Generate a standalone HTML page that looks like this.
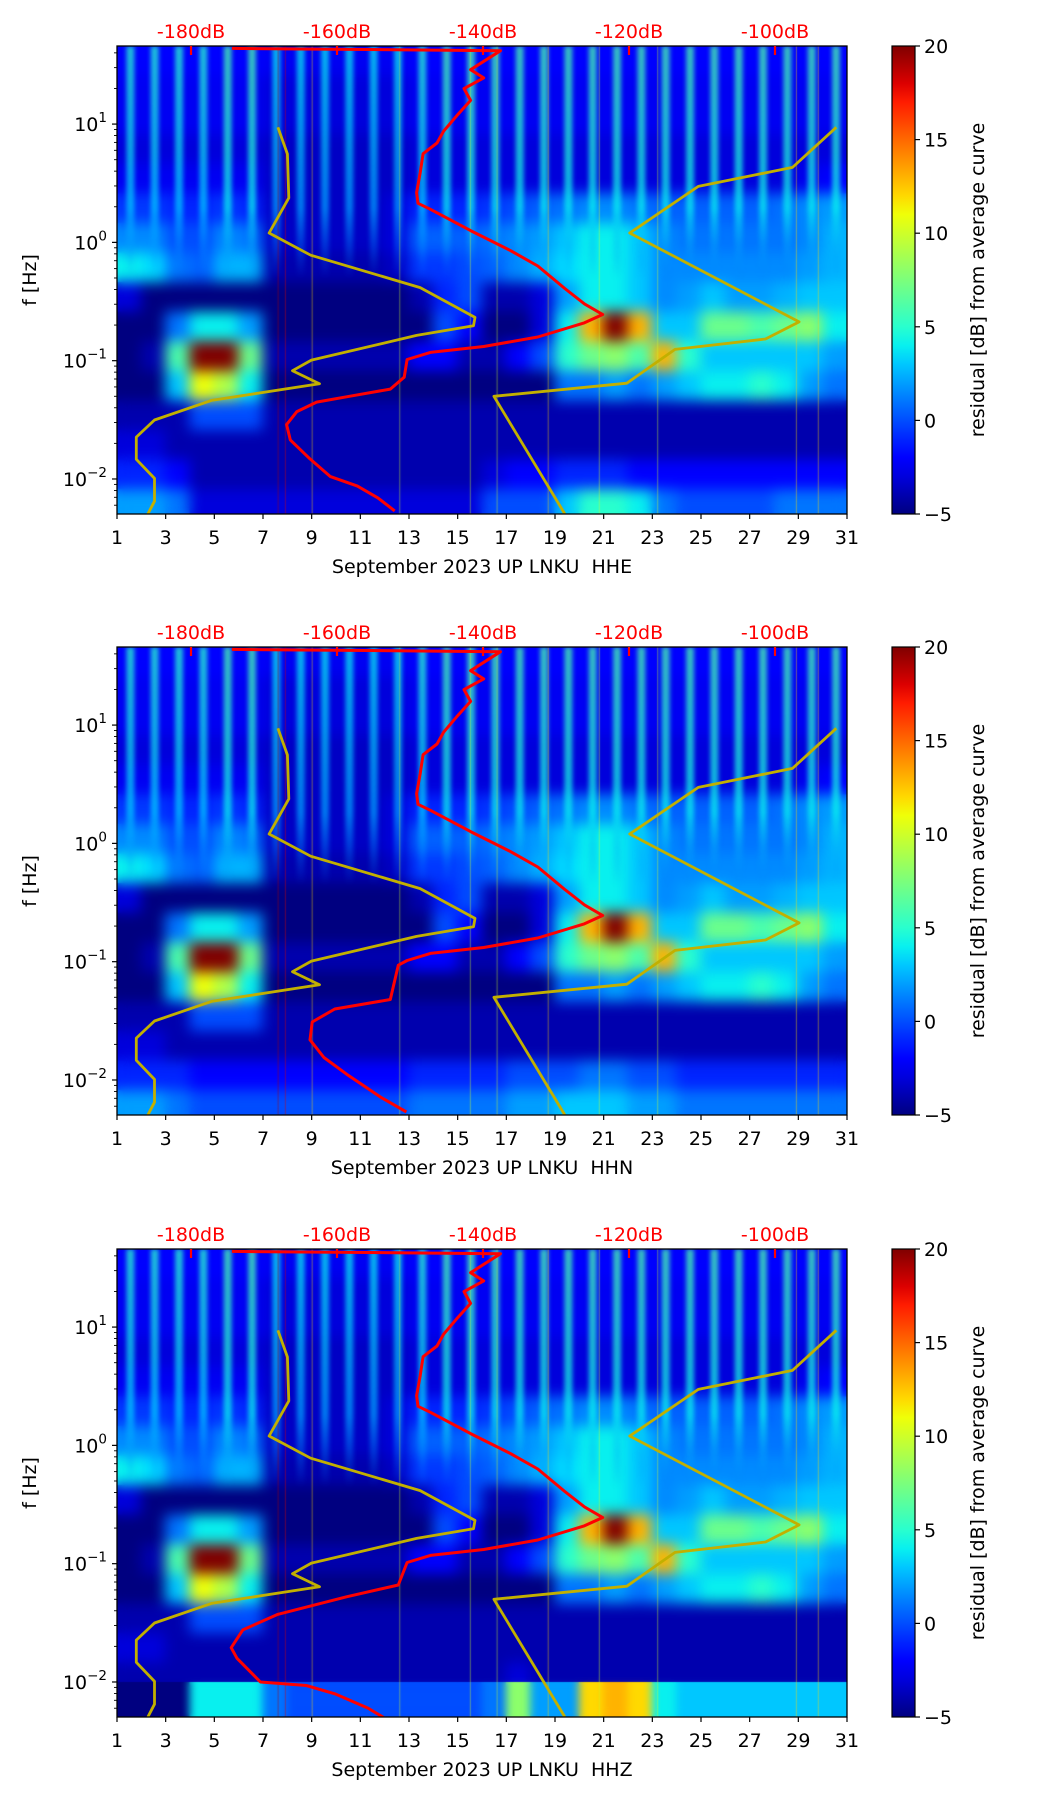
<!DOCTYPE html>
<html><head><meta charset="utf-8">
<style>
html,body{margin:0;padding:0;background:#fff;}
#wrap{position:relative;width:1052px;height:1806px;overflow:hidden;}
canvas{position:absolute;}
svg{position:absolute;left:0;top:0;}
text{font-family:"DejaVu Sans","Liberation Sans",sans-serif;}
</style></head>
<body>
<div id="wrap">
<canvas id="c0" width="730" height="468" style="left:117px;top:46px"></canvas>
<canvas id="c1" width="730" height="468" style="left:117px;top:647px"></canvas>
<canvas id="c2" width="730" height="468" style="left:117px;top:1249px"></canvas>
<svg id="svg" width="1052" height="1806" xmlns="http://www.w3.org/2000/svg"></svg>
</div>
<script>
// ---------- data ----------
const channels = ["HHE","HHN","HHZ"];
const dayTicks = [1,3,5,7,9,11,13,15,17,19,21,23,25,27,29,31];
const dbTicks = [-180,-160,-140,-120,-100];
const cbTicks = [-5,0,5,10,15,20];
const decades = [-2,-1,0,1];
// heatmap rows (top to bottom, 0.25 decade each), 30 day columns
const baseGrid = [
[-2,-2,-2,-2,-2,-2,-2.5,-2.5,-2.5,-2.5,-2.5,-2.5,-2,-2,-2,-2,-2,-2,-2,-2,-2,-2,-2,-2,-2,-2,-2,-2,-2,-2],
[-2.5,-2.5,-2.5,-2.5,-2.5,-2.5,-3,-3,-3,-3,-3,-3,-2.5,-2.5,-2.5,-2.5,-2.5,-2.5,-2.5,-2.5,-2.5,-2.5,-2.5,-2.5,-2.5,-2.5,-2.5,-2.5,-2.5,-2.5],
[-2.5,-2.5,-2.5,-2.5,-2.5,-2.5,-3,-3,-3,-3,-3,-3,-2.5,-2.5,-2.5,-2.5,-2.5,-2.5,-2.5,-2.5,-2.5,-2.5,-2.5,-2.5,-2.5,-2.5,-2.5,-2.5,-2.5,-2.5],
[-3,-3,-3,-3,-3,-3,-3.5,-3.5,-3.5,-3.5,-3.5,-3.5,-3,-3,-3,-3,-3,-3,-3,-3,-3,-3,-3,-3,-3,-3,-3,-3,-3,-3],
[-2.5,-2.5,-2.5,-2.5,-2.5,-2.5,-3.5,-3.5,-3.5,-3.5,-3.5,-3.5,-3,-3,-3,-3,-3,-3,-3,-3,-3,-3,-3,-3,-3,-3,-3,-3,-2.5,-2],
[-0.5,-0.5,-1,-1,-0.5,-1,-3.5,-3.5,-3.5,-3.5,-3.5,-3,-1,-1,-1,-0.5,0,0.5,1,1.5,1.5,1,0.5,0.5,0.5,0.5,0.5,1,1.5,2],
[1.5,1.5,0,0,1.5,1,-3.5,-3.5,-3.5,-3.5,-3.5,-3,0.5,0.5,0.5,1,1.5,2,3,4,4,3,1.5,1,1,1,1,1,1.5,2.5],
[4,3.5,1,0.5,2.5,2.5,-4,-4,-4,-4,-4,-3.5,-0.5,-0.5,0,0.5,1.5,2.5,3.5,4,4,3,1.5,1.5,1.5,1.5,1.5,1.5,2,2.5],
[-3,-5,-5,-5,-5,-5,-5,-5,-5,-5,-5,-5,-4,-1,0,-4,-4,-3,2,4,4,3,1.5,2,3,2,2,2.5,3,3],
[-5,-5,1,4,4,2,-5,-5,-5,-5,-5,-5,-5,0,-2,-5,-5,-3,4,13,20,13,3,3,7,7,6,7,8,4],
[-5,-4,6,20,20,7,-4,-4,-4,-4,-4,-4,-2,-2,-4,-4,-2,0,5,7,8,6,13,5,3,3,3,3,3,2],
[-5,-5,3,11,9,4,-5,-5,-5,-5,-5,-5,-5,-5,-5,-5,-5,-5,1,1,2,1,2,3,4,4,5,4,2,1],
[-4,-4,-4,0,0,0,-4,-4,-4,-4,-4,-4,-4,-4,-4,-4,-4,-4,-4,-4,-4,-4,-4,-4,-4,-4,-4,-4,-4,-4],
[-3,-3,-4,-4,-4,-4,-4,-4,-4,-4,-4,-4,-4,-4,-4,-4,-4,-4,-4,-4,-4,-4,-4,-4,-4,-4,-4,-4,-4,-4],
[-1,-1,-2,-4,-4,-4,-4,-4,-4,-4,-4,-4,-4,-4,-4,-3,-2,-2,-1,-1,-1,-2,-2,-2,-2,-2,-2,-2,-2,-2],
[2,2,1,-3,-3,-3,-3,-3,-3,-3,-3,-3,-3,-3,-3,0,0,0,3,5,5,4,1,0,0,0,0,1,1,1]
];
const hhnRow14 = [-1,-1,-1,-2,-2,-2,-2,-2,-2,-2,-2,-2,-1,-1,-1,-1,0,0,0,1,1,0,0,-1,-1,-1,-1,-1,-1,-1];
const hhnRow15 = [2,2,1,0,0,0,0,0,0,0,0,0,1,1,1,1,2,2,3,3,3,2,2,1,1,1,1,1,1,1];
const hhzRow14 = [-4,-4,-4,-4,-4,-4,-4,-4,-4,-4,-4,-4,-4,-4,-4,-4,-3,-4,-4,-4,-4,-4,-4,-4,-4,-4,-4,-4,-4,-4];
const hhzRow15 = [-5,-5,-5,4,4,4,1,0,0,0,0,0,0,0,0,1,8,2,2,12,13,12,4,3,3,3,3,3,3,3];
const streakStrength = [5,5,5,5,6,6,4,4,4,4,4,4,5,6,6,6,6,6,6,6,6,6,6,6,6,6,6,6,6,6];
const spikeDays = [7.6,7.9,9.0,12.6,15.5,16.6,18.7,20.8,23.2,28.9,29.8];
const spikeVals = [19,18,12,10,10,10,12,10,10,12,12];
// model curves (dB, log10 f)
const nlnmDb = [-168.1,-166.8,-166.6,-169.3,-163.6,-148.6,-141.1,-141.3,-149.1,-163.5,-166.1,-162.4,-177.1,-185.0,-187.5,-187.5,-185.0,-185.0,-185.9];
const nlnmLf = [0.973,0.747,0.376,0.079,-0.108,-0.382,-0.634,-0.705,-0.786,-0.995,-1.085,-1.195,-1.334,-1.501,-1.646,-1.834,-1.995,-2.188,-2.295];
const nhnmDb = [-91.6,-97.6,-110.5,-119.9,-96.7,-101.3,-113.7,-120.3,-138.5,-128.8];
const nhnmLf = [0.973,0.634,0.473,0.079,-0.672,-0.817,-0.905,-1.19,-1.301,-2.295];
// red average curve (upper part shared)
const redUpDb = [-174.4,-137.6,-141.7,-139.9,-142.6,-141.7,-143.6,-145.4,-146.3,-148.2,-148.6,-149.1,-148.9,-147.2,-141.7,-136.2,-132.5,-128.8,-126.1,-123.6,-126.1,-132.5,-139.9,-147.2,-150.4];
const redUpLf = [1.64,1.62,1.46,1.39,1.30,1.20,1.07,0.94,0.84,0.75,0.59,0.42,0.33,0.28,0.10,-0.07,-0.2,-0.39,-0.52,-0.61,-0.68,-0.80,-0.88,-0.93,-0.99];
const redLoDb0 = [-150.8,-152.7,-158.2,-162.8,-165.5,-166.9,-166.4,-163.7,-160.9,-157.2,-154.4,-152.1];
const redLoLf0 = [-1.14,-1.24,-1.30,-1.35,-1.43,-1.54,-1.67,-1.83,-1.98,-2.06,-2.16,-2.27];
const redLoDb1 = [-151.6,-152.7,-160.3,-163.4,-163.7,-161.8,-158.7,-153.9,-150.5];
const redLoLf1 = [-1.03,-1.32,-1.40,-1.51,-1.66,-1.81,-1.95,-2.15,-2.27];
const redLoDb2 = [-151.6,-158.7,-168.2,-172.9,-174.5,-173.7,-170.5,-164.2,-160.3,-155.8,-153.6];
const redLoLf2 = [-1.18,-1.28,-1.43,-1.56,-1.71,-1.80,-2.0,-2.03,-2.1,-2.22,-2.30];

// ---------- geometry ----------
const L=117, W=730, H=468, TOPS=[46,647,1249];
const FTOP=1.66, DEC=3.956, VMIN=-5, VMAX=20;
const dayX = d => L + (d-1)*W/30;
const dbX = db => 191 + (db+180)*7.3;
const fy = (top,lf) => top + (FTOP-lf)/DEC*H;

function interp(t,xs,ys){for(let i=1;i<xs.length;i++){if(t<=xs[i]){const u=(t-xs[i-1])/(xs[i]-xs[i-1]);return ys[i-1]+u*(ys[i]-ys[i-1]);}}return ys[ys.length-1];}
function jet(v){let t=(v-VMIN)/(VMAX-VMIN);t=Math.max(0,Math.min(1,t));
 const r=interp(t,[0,.35,.66,.89,1],[0,0,1,1,.5]);
 const g=interp(t,[0,.125,.375,.64,.91,1],[0,0,1,1,0,0]);
 const b=interp(t,[0,.11,.34,.65,1],[.5,1,1,0,0]);
 return `rgb(${Math.round(r*255)},${Math.round(g*255)},${Math.round(b*255)})`;}

// ---------- heatmaps ----------
function gridFor(p){const g=baseGrid.map(r=>r.slice());
 if(p===1){g[14]=hhnRow14;g[15]=hhnRow15;}
 if(p===2){g[14]=hhzRow14;g[15]=hhzRow15;}
 return g;}
for(let p=0;p<3;p++){
 const cv=document.getElementById('c'+p), ctx=cv.getContext('2d');
 const off=document.createElement('canvas');off.width=W;off.height=H;const o=off.getContext('2d');
 const g=gridFor(p), cw=W/30, rh=0.25/DEC*H;
 g.forEach((row,r)=>row.forEach((v,c)=>{o.fillStyle=jet(v);o.fillRect(c*cw-0.5,r*rh-0.5,cw+1,rh+1);}));
 ctx.drawImage(off,0,0);
 ctx.filter='blur(7px)';ctx.drawImage(off,0,0);ctx.drawImage(off,0,0);ctx.filter='none';
 if(p===2){ // sharp boundary at 10 mHz
  const yb=fy(0,-2);
  const o2=document.createElement('canvas');o2.width=W;o2.height=H;const x2=o2.getContext('2d');
  g[15].forEach((v,c)=>{x2.fillStyle=jet(v);x2.fillRect(c*cw-0.5,yb,cw+1,H-yb);});
  ctx.fillStyle=jet(g[15][0]);ctx.fillRect(0,yb,W,H-yb);
  ctx.save();ctx.beginPath();ctx.rect(0,yb,W,H-yb);ctx.clip();
  ctx.drawImage(o2,0,0);ctx.filter='blur(4px)';ctx.drawImage(o2,0,0);ctx.drawImage(o2,0,0);ctx.filter='none';
  ctx.restore();
 }
 // diurnal streaks
 ctx.filter='blur(2px)';
 streakStrength.forEach((s,c)=>{
  const x=(c+0.55)*cw, yEnd=fy(0,p===0?-0.3:-0.35);
  const gr=ctx.createLinearGradient(0,0,0,yEnd);
  gr.addColorStop(0,jet(s));gr.addColorStop(0.7,jet(s-2));gr.addColorStop(1,'rgba(0,128,255,0)');
  ctx.globalAlpha=0.75;ctx.fillStyle=gr;ctx.fillRect(x-4,0,8,yEnd);
 });
 ctx.globalAlpha=1;ctx.filter='none';
 // thin spikes
 spikeDays.forEach((d,i)=>{ctx.fillStyle=jet(spikeVals[i]);ctx.globalAlpha=0.45;ctx.fillRect((d-1)*cw,0,1,H);});
 ctx.globalAlpha=1;
}

// ---------- SVG overlay ----------
const NS='http://www.w3.org/2000/svg', svg=document.getElementById('svg');
function mk(tag,attrs,parent){const e=document.createElementNS(NS,tag);for(const k in attrs)e.setAttribute(k,attrs[k]);(parent||svg).appendChild(e);return e;}
const defs=mk('defs',{});
const grad=mk('linearGradient',{id:'jetg',x1:0,y1:1,x2:0,y2:0},defs);
for(let i=0;i<=25;i++){mk('stop',{offset:i/25,'stop-color':jet(VMIN+i)},grad);}

function poly(top,dbs,lfs){return dbs.map((d,i)=>dbX(d).toFixed(1)+','+fy(top,lfs[i]).toFixed(1)).join(' ');}
const redLo=[[redLoDb0,redLoLf0],[redLoDb1,redLoLf1],[redLoDb2,redLoLf2]];

TOPS.forEach((top,p)=>{
 const gp=mk('g',{});
 
 
 const clip=mk('clipPath',{id:'clip'+p},defs);mk('rect',{x:L,y:top,width:W,height:H},clip);
 const curves=mk('g',{'clip-path':`url(#clip${p})`},gp);
 const n1=mk('polyline',{points:poly(top,nlnmDb,nlnmLf),fill:'none',stroke:'#c2b000','stroke-width':2.8,'stroke-linejoin':'round'},curves);
 
 
 const n2=mk('polyline',{points:poly(top,nhnmDb,nhnmLf),fill:'none',stroke:'#c2b000','stroke-width':2.8,'stroke-linejoin':'round'},curves);
 
 
 const rd=mk('polyline',{points:poly(top,redUpDb.concat(redLo[p][0]),redUpLf.concat(redLo[p][1])),fill:'none',stroke:'#ff0000','stroke-width':3,'stroke-linejoin':'round'},curves);
 
 
 // frame
 const fr=mk('rect',{x:L,y:top,width:W,height:H,fill:'none',stroke:'#000','stroke-width':1.3},gp);
 
 
 // x ticks
 dayTicks.forEach(d=>{const x=dayX(d);
  mk('line',{x1:x,y1:top+H,x2:x,y2:top+H+5,stroke:'#000','stroke-width':1.2},gp);
  const t=mk('text',{x:x,y:top+H+30,'font-size':19,'text-anchor':'middle',fill:'#000'},gp);t.textContent=d;
  
  
 });
 const xl=mk('text',{x:L+W/2,y:top+H+59,'font-size':19,'text-anchor':'middle',fill:'#000'},gp);
 xl.textContent='September 2023 UP LNKU\u00a0\u00a0'+channels[p];
 
 
 // y ticks
 for(let e=-3;e<=1;e++){for(let m=1;m<10;m++){const lf=e+Math.log10(m);if(lf<FTOP-DEC||lf>FTOP)continue;const y=fy(top,lf);
  mk('line',{x1:L,y1:y,x2:L-(m===1?5:3),y2:y,stroke:'#000','stroke-width':m===1?1.2:0.9},gp);}}
 decades.forEach(e=>{const y=fy(top,e);
  const t=mk('text',{x:L-10,y:y+7,'font-size':19,'text-anchor':'end',fill:'#000'},gp);
  
  
  const a=mk('tspan',{},t);a.textContent='10';
  const b=mk('tspan',{dy:-9,'font-size':13.5},t);b.textContent=(e<0?'\u2212':'')+Math.abs(e);
 });
 const yl=mk('text',{x:0,y:0,'font-size':19,'text-anchor':'middle',fill:'#000',transform:`translate(36,${top+H/2}) rotate(-90)`},gp);
 yl.textContent='f [Hz]';
 
 
 // top dB axis
 dbTicks.forEach(db=>{const x=dbX(db);
  mk('line',{x1:x,y1:top,x2:x,y2:top+9,stroke:'#ff0000','stroke-width':2.2},gp);
  const t=mk('text',{x:x,y:top-8,'font-size':19,'text-anchor':'middle',fill:'#ff0000'},gp);t.textContent=db+'dB';
  
  
 });
 // colorbar
 const cb=mk('rect',{x:892,y:top,width:23,height:H,fill:'url(#jetg)',stroke:'#000','stroke-width':1.2},gp);
 
 
 cbTicks.forEach(v=>{const y=top+H-(v-VMIN)/(VMAX-VMIN)*H;
  mk('line',{x1:915,y1:y,x2:920,y2:y,stroke:'#000','stroke-width':1.2},gp);
  const t=mk('text',{x:924,y:y+7,'font-size':19,fill:'#000'},gp);t.textContent=(v<0?'\u2212':'')+Math.abs(v);
  
  
 });
 const cl=mk('text',{x:0,y:0,'font-size':19,'text-anchor':'middle',fill:'#000',transform:`translate(984,${top+H/2}) rotate(-90)`},gp);
 cl.textContent='residual [dB] from average curve';
 
 
});
</script>
</body></html>
